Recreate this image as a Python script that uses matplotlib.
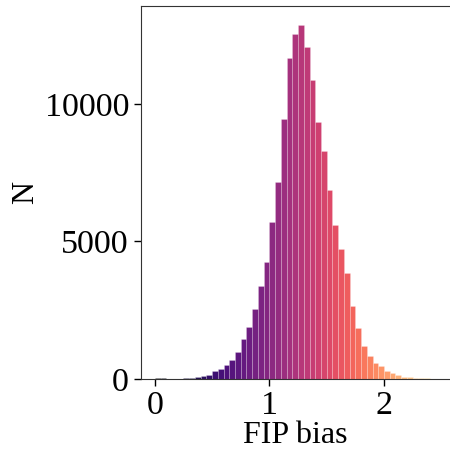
import numpy as np
import matplotlib
matplotlib.use("Agg")
import matplotlib.pyplot as plt

plt.rcParams['font.family'] = ['Liberation Serif', 'DejaVu Serif']

# Histogram of FIP bias: bin edges (width 0.05) and counts
bin_edges = np.round(np.arange(0.0, 2.60, 0.05), 2)
counts = [
    40, 20, 10, 10, 15, 30, 50, 70, 110,          # 0.00 - 0.45
    145, 300, 364, 509, 690, 993, 1443, 1903,     # 0.45 - 0.85
    2558, 3382, 4242, 5697, 7176, 9455, 11660,    # 0.85 - 1.20
    12533, 12873, 12060, 10850, 9333, 8267,       # 1.20 - 1.50
    6873, 5600, 4715, 3842, 2655, 1842,           # 1.50 - 1.80
    1200, 836, 570, 473, 302, 230, 133, 85,       # 1.80 - 2.20
    60, 40, 28, 18, 10, 6, 3,                     # 2.20 - 2.55
]
x_label = "FIP bias"
y_label = "N"
x_ticks = [0, 1, 2]
y_ticks = [0, 5000, 10000]

fig = plt.figure(figsize=(4.5, 4.53), dpi=100)
ax = fig.add_axes([0.313, 0.1634, 0.687, 0.8234])

lefts = bin_edges[:-1]
widths = np.diff(bin_edges)
centers = lefts + widths / 2
cmap = plt.get_cmap('magma')
norm = plt.Normalize(bin_edges[0], bin_edges[-1])
colors = cmap(norm(centers))
ax.bar(lefts, counts, width=widths, align='edge', color=colors,
       edgecolor=(1, 1, 1, 0.35), linewidth=0.4)

ax.set_xlim(-0.122, 2.576)
ax.set_ylim(0, max(counts) * 1.053)
ax.set_xticks(x_ticks)
ax.set_yticks(y_ticks)
ax.tick_params(direction='out', length=5, width=1, labelsize=24.5)
ax.spines['right'].set_visible(False)
for s in ['left', 'top', 'bottom']:
    ax.spines[s].set_color('#333333')
ax.set_xlabel(x_label, fontsize=23, labelpad=0)
ax.set_ylabel(y_label, fontsize=23, labelpad=3)

fig.savefig('out.png', dpi=100)
